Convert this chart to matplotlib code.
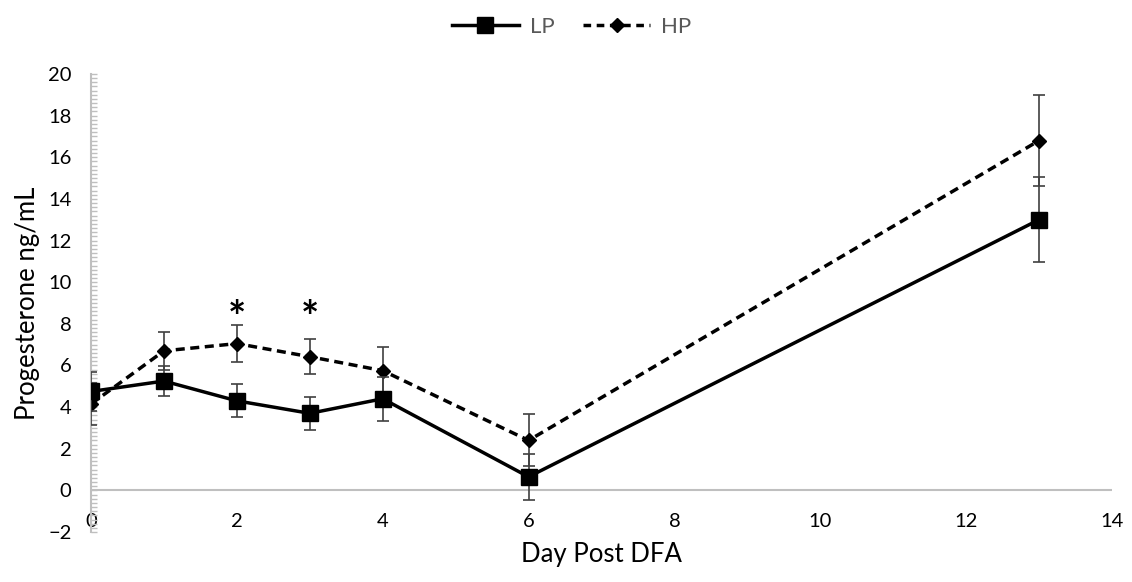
import matplotlib
matplotlib.use("Agg")
import matplotlib.pyplot as plt
from matplotlib.lines import Line2D
from matplotlib.ticker import MultipleLocator

# data
days = [0, 1, 2, 3, 4, 6, 13]
lp_mean = [4.75, 5.25, 4.3, 3.7, 4.4, 0.65, 13.0]
lp_err = [0.95, 0.72, 0.8, 0.8, 1.05, 1.12, 2.05]
hp_mean = [4.15, 6.7, 7.05, 6.42, 5.75, 2.4, 16.8]
hp_err = [1.0, 0.9, 0.9, 0.83, 1.15, 1.25, 2.2]
star_days = [2, 3]
star_level = 8.9

plt.rcParams['font.family'] = ['Lato', 'DejaVu Sans']

fig = plt.figure(figsize=(11.32, 5.82), dpi=100)
ax = fig.add_axes([0.0804, 0.0859, 0.9019, 0.787])

ecol = '#404040'
ax.errorbar(days, hp_mean, yerr=hp_err, color='black', lw=2.5, dashes=(2.6, 1.6),
            marker='D', ms=7.6, ecolor=ecol, elinewidth=1.2, capsize=4.5,
            capthick=1.2, zorder=3)
ax.errorbar(days, lp_mean, yerr=lp_err, color='black', lw=2.5,
            marker='s', ms=11.5, ecolor=ecol, elinewidth=1.2, capsize=4.5,
            capthick=1.2, zorder=4)

# significance markers
for d in star_days:
    ax.text(d, star_level - 0.65, '*', ha='center', va='center', fontsize=31,
            fontweight='bold', color='black')

ax.set_xlim(0, 14)
ax.set_ylim(-2, 20)
ax.axhline(0, color='#bfbfbf', lw=1.5, zorder=1)

for s in ['top', 'right', 'bottom']:
    ax.spines[s].set_visible(False)
ax.spines['left'].set_color('#bfbfbf')
ax.spines['left'].set_linewidth(1.5)

ax.xaxis.set_major_locator(MultipleLocator(2))
ax.yaxis.set_major_locator(MultipleLocator(2))
ax.yaxis.set_minor_locator(MultipleLocator(0.2))
ax.tick_params(axis='y', which='both', direction='in', length=4,
               color='#bfbfbf', width=1, pad=14, labelsize=14.5)
ax.tick_params(axis='x', length=0, pad=-14, labelsize=14.5)

ax.set_ylabel('Progesterone ng/mL', fontsize=18.5, labelpad=6)
ax.set_xlabel('Day Post DFA', fontsize=18.5, labelpad=7)

handles = [
    Line2D([], [], color='black', lw=2.5, marker='s', ms=11.5),
    Line2D([], [], color='black', lw=2.5, dashes=(2.2, 1.6), marker='D', ms=7.6),
]
fig.legend(handles, ['LP', 'HP'], loc='upper center', ncol=2,
           bbox_to_anchor=(0.505, 1.005), frameon=False, fontsize=16,
           labelcolor='#595959', handlelength=3.0, columnspacing=1.3,
           handletextpad=0.5)

fig.savefig('out.png', dpi=100)
